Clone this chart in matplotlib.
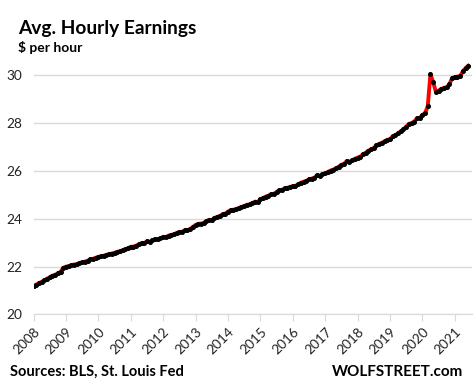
import matplotlib
matplotlib.use('Agg')
import matplotlib.pyplot as plt
import numpy as np

# monthly avg hourly earnings, Jan 2008 .. Jun 2021
y2008 = [21.18, 21.25, 21.31, 21.36, 21.43, 21.50, 21.55, 21.62, 21.66, 21.72, 21.78, 21.95]
y2009 = [22.00, 22.02, 22.06, 22.09, 22.10, 22.14, 22.18, 22.21, 22.25, 22.30, 22.33, 22.37]
y2010 = [22.41, 22.43, 22.46, 22.49, 22.53, 22.55, 22.58, 22.62, 22.64, 22.69, 22.72, 22.77]
y2011 = [22.83, 22.84, 22.88, 22.93, 22.99, 22.98, 23.06, 23.03, 23.11, 23.15, 23.14, 23.18]
y2012 = [23.25, 23.24, 23.30, 23.33, 23.35, 23.41, 23.45, 23.46, 23.52, 23.52, 23.57, 23.66]
y2013 = [23.74, 23.79, 23.80, 23.83, 23.90, 23.96, 23.95, 24.03, 24.08, 24.12, 24.19, 24.22]
y2014 = [24.30, 24.37, 24.38, 24.41, 24.45, 24.50, 24.53, 24.59, 24.60, 24.65, 24.72, 24.70]
y2015 = [24.82, 24.87, 24.93, 24.97, 25.03, 25.05, 25.12, 25.19, 25.21, 25.28, 25.30, 25.33]
y2016 = [25.37, 25.38, 25.44, 25.51, 25.55, 25.59, 25.65, 25.68, 25.72, 25.82, 25.80, 25.87]
y2017 = [25.90, 25.96, 26.02, 26.06, 26.11, 26.18, 26.26, 26.30, 26.42, 26.38, 26.45, 26.51]
y2018 = [26.56, 26.60, 26.70, 26.76, 26.85, 26.90, 26.96, 27.07, 27.13, 27.18, 27.24, 27.30]
y2019 = [27.33, 27.45, 27.50, 27.57, 27.66, 27.74, 27.85, 27.97, 28.00, 28.07, 28.20, 28.22]
y2020 = [28.34, 28.42, 28.70, 30.05, 29.72, 29.32, 29.36, 29.43, 29.48, 29.50, 29.62, 29.88]
y2021 = [29.93, 29.95, 29.96, 30.17, 30.30, 30.40]

values = y2008 + y2009 + y2010 + y2011 + y2012 + y2013 + y2014 + \
    y2015 + y2016 + y2017 + y2018 + y2019 + y2020 + y2021
years = list(range(2008, 2022))
yticks = [20, 22, 24, 26, 28, 30]

x = 2008 + np.arange(len(values)) / 12.0

plt.rcParams['font.family'] = ['Lato', 'DejaVu Sans']

fig = plt.figure(figsize=(4.76, 3.84), dpi=100)
ax = fig.add_axes([0.0704, 0.181, 0.921, 0.685])

ax.plot(x, values, color='#ff0000', lw=2.8, zorder=3)
ax.plot(x, values, ls='none', marker='o', ms=2.6, color='black', zorder=4)

ax.set_ylim(20, 31)
ax.set_xlim(2008, 2021.53)
ax.set_yticks(yticks)
ax.set_xticks(years)
ax.set_xticklabels([str(yr) for yr in years], rotation=45, ha='right',
                   rotation_mode='anchor', fontsize=9.8, color='#222222')
ax.tick_params(axis='y', length=0, labelsize=9.8, labelcolor='#222222', pad=8)
ax.tick_params(axis='x', length=5, color='#d9d9d9', pad=3)
ax.grid(axis='y', color='#d9d9d9', lw=1)
ax.set_axisbelow(True)
for s in ['top', 'right', 'left']:
    ax.spines[s].set_visible(False)
ax.spines['bottom'].set_color('#d9d9d9')

fig.text(0.038, 0.912, 'Avg. Hourly Earnings', fontsize=13.8, fontweight='bold')
fig.text(0.038, 0.864, '$ per hour', fontsize=10, fontweight='bold')
fig.text(0.021, 0.022, 'Sources: BLS, St. Louis Fed', fontsize=10.5, fontweight='bold')
fig.text(0.973, 0.022, 'WOLFSTREET.com', fontsize=11, fontweight='bold', ha='right')

fig.savefig('out.png', dpi=100)
